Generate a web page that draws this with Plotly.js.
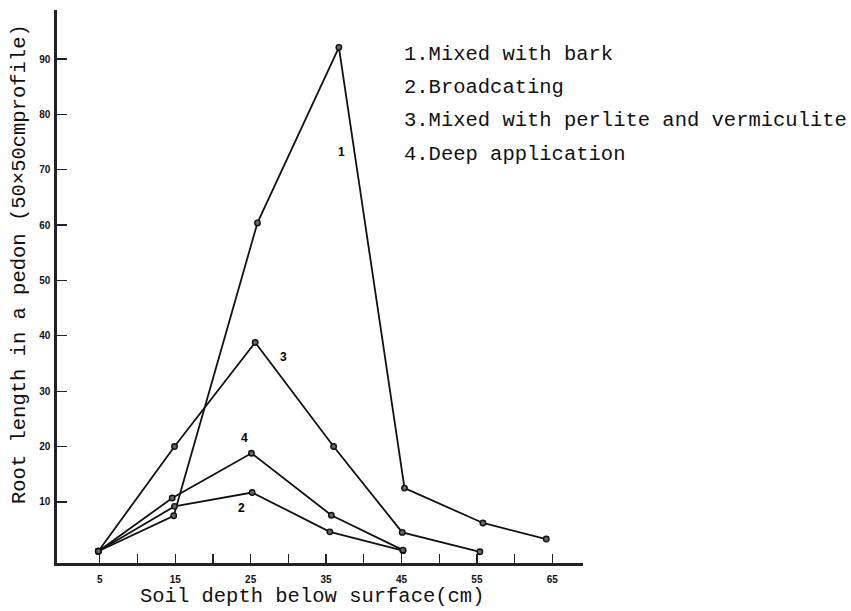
<!DOCTYPE html>
<html>
<head>
<meta charset="utf-8">
<script src="https://cdn.plot.ly/plotly-3.0.1.min.js"></script>
<style>html,body{margin:0;padding:0;background:#fff;}#chart{width:851px;height:611px;}</style>
</head>
<body>
<div id="chart"></div>
<script>
// Series (x = soil depth in cm, y = root length)
const barkX = [4.8, 14.8, 25.9, 36.7, 45.4, 55.8, 64.2];
const barkY = [1.1, 7.5, 60.4, 92.1, 12.5, 6.2, 3.3];
const broadX = [4.8, 14.9, 25.2, 35.5, 45.2];
const broadY = [1.1, 9.2, 11.7, 4.6, 1.2];
const perliteX = [4.8, 14.9, 25.6, 36.0, 45.1, 55.4];
const perliteY = [1.1, 20.0, 38.8, 20.0, 4.5, 1.0];
const deepX = [4.8, 14.6, 25.1, 35.7, 45.2];
const deepY = [1.1, 10.7, 18.8, 7.6, 1.3];

const xTickVals = [5, 10, 15, 20, 25, 30, 35, 40, 45, 50, 55, 60, 65];
const xTickText = ['5', '', '15', '', '25', '', '35', '', '45', '', '55', '', '65'];
const yTickVals = [10, 20, 30, 40, 50, 60, 70, 80, 90];

const legendLines = [
  '1.Mixed with bark',
  '2.Broadcating',
  '3.Mixed with perlite and vermiculite',
  '4.Deep application'
];
const seriesLabels = ['1', '2', '3', '4'];
const labelX = [37.1, 23.8, 29.3, 24.2];
const labelY = [73.2, 8.9, 36.1, 21.5];

const xTitle = 'Soil depth below surface(cm)';
const yTitle = 'Root length in a pedon (50×50cmprofile)';

const lineStyle = {color: '#111', width: 1.8};
const markerStyle = {symbol: 'circle', size: 5.5, color: '#666', line: {color: '#111', width: 1.4}};

function mk(x, y, name) {
  return {x: x, y: y, name: name, type: 'scatter', mode: 'lines+markers',
          line: lineStyle, marker: markerStyle, showlegend: false, hoverinfo: 'skip'};
}

const data = [
  mk(barkX, barkY, legendLines[0]),
  mk(broadX, broadY, legendLines[1]),
  mk(perliteX, perliteY, legendLines[2]),
  mk(deepX, deepY, legendLines[3])
];

const mono = 'Liberation Mono, Courier New, monospace';
const annotations = [];
const legY = [0.9204, 0.859, 0.7993, 0.7378];
legendLines.forEach((t, i) => annotations.push({
  text: t, xref: 'paper', yref: 'paper', x: 0.6553, y: legY[i],
  xanchor: 'left', yanchor: 'middle', showarrow: false,
  font: {family: mono, size: 20.5, color: '#111'}
}));
seriesLabels.forEach((t, i) => annotations.push({
  text: t, xref: 'x', yref: 'y', x: labelX[i], y: labelY[i],
  xanchor: 'center', yanchor: 'middle', showarrow: false,
  font: {family: 'Liberation Sans, Arial, sans-serif', size: 12, color: '#000', weight: 'bold'}
}));
annotations.push({
  text: xTitle, xref: 'paper', yref: 'paper', x: 0.4842, y: -0.0597,
  xanchor: 'center', yanchor: 'middle', showarrow: false,
  font: {family: mono, size: 20.5, color: '#111'}
});
annotations.push({
  text: yTitle, xref: 'paper', yref: 'paper', x: -0.0703, y: 0.5407,
  xanchor: 'center', yanchor: 'middle', showarrow: false, textangle: -90,
  font: {family: mono, size: 20.5, color: '#111'}
});

const layout = {
  width: 851, height: 611,
  margin: {l: 57, r: 268, t: 10, b: 48, pad: 0},
  paper_bgcolor: '#fff', plot_bgcolor: '#fff',
  showlegend: false,
  xaxis: {
    range: [-0.68, 69.07], showgrid: false, zeroline: false,
    showline: true, linecolor: '#222', linewidth: 2.6,
    ticks: 'inside', ticklen: 9, tickwidth: 1.3, tickcolor: '#222',
    tickmode: 'array', tickvals: xTickVals, ticktext: xTickText,
    ticklabelstandoff: 5,
    tickfont: {family: 'Liberation Sans, Arial, sans-serif', size: 10, color: '#111', weight: 'bold'}
  },
  yaxis: {
    range: [-1.03, 98.85], showgrid: false, zeroline: false,
    showline: true, linecolor: '#222', linewidth: 2.6,
    ticks: 'inside', ticklen: 10, tickwidth: 1.3, tickcolor: '#222',
    tickmode: 'array', tickvals: yTickVals,
    ticklabelstandoff: 2,
    tickfont: {family: 'Liberation Sans, Arial, sans-serif', size: 10, color: '#111', weight: 'bold'}
  },
  annotations: annotations
};

Plotly.newPlot('chart', data, layout, {staticPlot: true, displayModeBar: false});
</script>
</body>
</html>
